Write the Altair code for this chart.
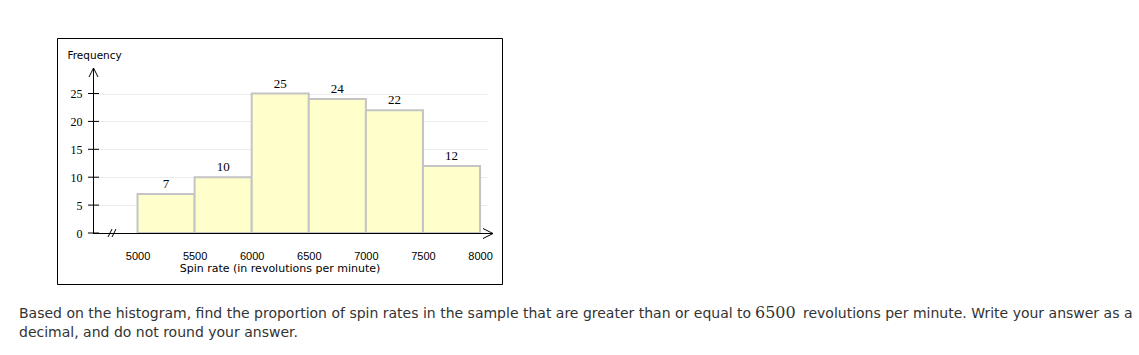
import altair as alt
import pandas as pd

# ---- data ----
bin_start = [5000, 5500, 6000, 6500, 7000, 7500]
bin_end = [5500, 6000, 6500, 7000, 7500, 8000]
counts = [7, 10, 25, 24, 22, 12]
x_ticks = [5000, 5500, 6000, 6500, 7000, 7500, 8000]
y_ticks = [0, 5, 10, 15, 20, 25]
question_1a = "Based on the histogram, find the proportion of spin rates in the sample that are greater than or equal to"
question_num = "6500"
question_1b = "revolutions per minute. Write your answer as a"
question_2 = "decimal, and do not round your answer."

bars = pd.DataFrame({"start": bin_start, "end": bin_end, "count": counts})
bars["mid"] = (bars["start"] + bars["end"]) / 2
ticks = pd.DataFrame({"v": y_ticks})
one = pd.DataFrame({"k": [0]})

W, H = 394, 165
xs = alt.Scale(domain=[4610, 8061], nice=False, zero=False)
ys = alt.Scale(domain=[0, 29.57], nice=False, zero=False)

ax_x = alt.Axis(
    values=x_ticks, grid=False, domain=False, ticks=False, tickSize=0,
    labelFont="Liberation Sans", labelFontSize=11, labelColor="#000",
    labelBaseline="alphabetic", labelPadding=26, format="d", labelOverlap=False,
    title="Spin rate (in revolutions per minute)", titleFont="DejaVu Sans",
    titleFontSize=11, titleFontWeight="normal", titleColor="#000",
    titleX=186.5, titleY=35, titleAlign="center", titleBaseline="middle")
ax_y = alt.Axis(
    values=y_ticks, grid=True, gridColor="#ececec", domain=True,
    domainColor="#000", ticks=False, tickSize=0, labelOverlap=False,
    labelFont="Liberation Serif", labelFontSize=12, labelColor="#000",
    labelPadding=11, title="Frequency", titleFont="DejaVu Sans",
    titleFontSize=10.5, titleFontWeight="normal", titleColor="#000",
    titleAngle=0, titleAlign="left", titleBaseline="middle",
    titleX=-26, titleY=-13)

bar_layer = alt.Chart(bars).mark_rect(
    fill="#ffffcc", stroke="#c4c4c4", strokeWidth=2
).encode(
    x=alt.X("start:Q", scale=xs, axis=ax_x),
    x2="end:Q",
    y=alt.Y("count:Q", scale=ys, axis=ax_y),
    y2=alt.datum(0),
)

labels = alt.Chart(bars).mark_text(
    font="Liberation Serif", fontSize=13, color="#000", baseline="alphabetic", dy=-6
).encode(
    x=alt.X("mid:Q", scale=xs, axis=ax_x),
    y=alt.Y("count:Q", scale=ys, axis=ax_y),
    text="count:Q",
)

tick_marks = alt.Chart(ticks).mark_rule(color="#000", strokeWidth=1).encode(
    y=alt.Y("v:Q", scale=ys, axis=ax_y), x=alt.value(-5), x2=alt.value(6)
)

def seg(x1, y1, x2, y2):
    return alt.Chart(one).mark_rule(color="#000", strokeWidth=1).encode(
        x=alt.value(x1), y=alt.value(y1), x2=alt.value(x2), y2=alt.value(y2)
    )

deco = [
    seg(0, 165.5, 400, 165.5),      # x axis line
    seg(400, 165.5, 390, 160.5),    # x arrow
    seg(400, 165.5, 390, 170.5),
    seg(0.5, 0, -4, 9),             # y arrow
    seg(0.5, 0, 5, 9),
    seg(15, 169, 19, 161),          # break //
    seg(19, 169, 23, 161),
]

frame = alt.Chart(one).mark_rect(fill=None, stroke="#000", strokeWidth=1).encode(
    x=alt.value(-35.5), x2=alt.value(409.5), y=alt.value(-29.5), y2=alt.value(216.5)
)

def txt(s, x, y, font="DejaVu Sans", size=14):
    return alt.Chart(one).mark_text(
        text=s, font=font, fontSize=size, color="#333", align="left", baseline="alphabetic"
    ).encode(x=alt.value(x), y=alt.value(y))

texts = [
    txt(question_1a, -74, 250),
    txt(question_num, 662, 250, font="DejaVu Serif", size=16),
    txt(question_1b, 710, 250),
    txt(question_2, -74, 269),
]

chart = alt.layer(bar_layer, labels, tick_marks, *deco, frame, *texts).properties(
    width=W, height=H,
    padding={"left": 93, "top": 68, "right": 652, "bottom": 122},
    autosize=alt.AutoSizeParams(type="none"),
    background="#ffffff",
).configure_view(stroke=None)

chart.save("out.html", embed_options={"renderer": "svg", "actions": False})
